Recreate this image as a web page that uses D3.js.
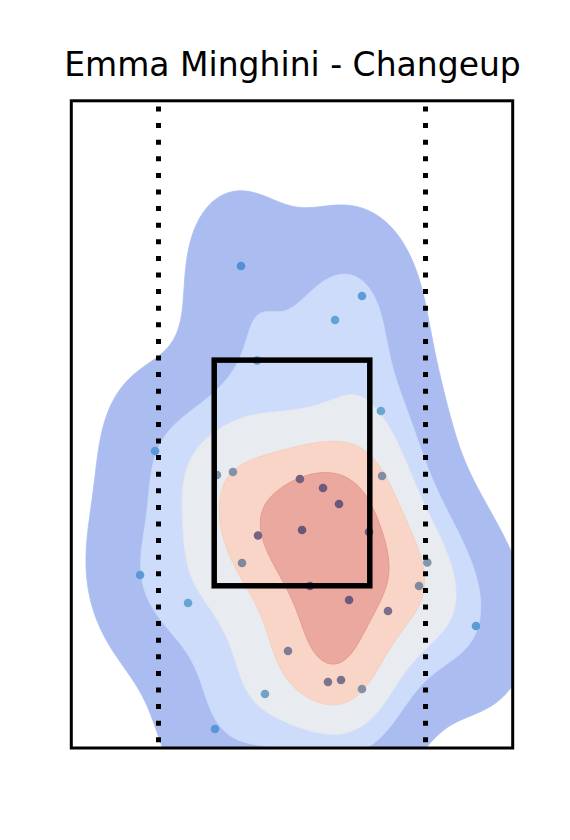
<!DOCTYPE html>
<html><head><meta charset="utf-8">
<script src="https://cdn.jsdelivr.net/npm/d3@7"></script>
<style>body{margin:0;background:#fff} svg{display:block}</style>
</head><body>
<script>
// ---- data (plate x / height, feet-like units) ----
const titleText = "Emma Minghini - Changeup";
const pitchX = [-0.462, 0.634, 0.390, -0.317, 0.806, -1.241, -0.680, -0.535, 0.072, 0.816,
                0.281, 0.426, -0.308, 0.091, 0.698, -0.453, 1.226, 0.163, 1.151, 0.517,
                -1.377, -0.942, 0.870, 1.667, -0.036, 0.326, 0.444, 0.634, -0.245, -0.698];
const pitchZ = [4.368, 4.096, 3.879, 3.512, 3.054, 2.691, 2.474, 2.501, 2.438, 2.465,
                2.356, 2.211, 1.926, 1.976, 1.957, 1.676, 1.681, 1.468, 1.468, 1.341,
                1.568, 1.314, 1.241, 1.106, 0.879, 0.598, 0.616, 0.535, 0.489, 0.172];
const zoneX = [-0.705, 0.705];
const zoneZ = [1.47, 3.515];
const edgeLines = [-1.21, 1.21];
const xLimits = [-2, 2];
const zLimits = [0, 5.865];
const isoLevels = [0.05, 0.24, 0.43, 0.62, 0.81, 1.0];
const bwAdjust = 0.9;

// ---- layout ----
const W = 570, H = 840;
const frame = {x0: 71.3, x1: 512.7, y0: 100.8, y1: 748};
const x = d3.scaleLinear().domain(xLimits).range([frame.x0, frame.x1]);
const y = d3.scaleLinear().domain(zLimits).range([frame.y1, frame.y0]);

const svg = d3.select("body").append("svg").attr("width", W).attr("height", H);

svg.append("text").attr("x", 292.5).attr("y", 76).attr("text-anchor", "middle")
  .attr("font-family", "DejaVu Sans").attr("font-size", 33).attr("fill", "#000")
  .text(titleText);

svg.append("defs").append("clipPath").attr("id", "clip")
  .append("rect").attr("x", frame.x0).attr("y", frame.y0)
  .attr("width", frame.x1 - frame.x0).attr("height", frame.y1 - frame.y0);

// ---- gaussian KDE (scott) ----
const n = pitchX.length;
const mx = d3.mean(pitchX), mz = d3.mean(pitchZ);
let sxx = 0, szz = 0, sxz = 0;
for (let i = 0; i < n; i++) {
  const dx = pitchX[i] - mx, dz = pitchZ[i] - mz;
  sxx += dx * dx; szz += dz * dz; sxz += dx * dz;
}
sxx /= (n - 1); szz /= (n - 1); sxz /= (n - 1);
const fac = Math.pow(n, -1 / 6) * bwAdjust;
const cxx = sxx * fac * fac, czz = szz * fac * fac, cxz = sxz * fac * fac;
const det = cxx * czz - cxz * cxz;
const ixx = czz / det, izz = cxx / det, ixz = -cxz / det;
const normC = 1 / (2 * Math.PI * Math.sqrt(det) * n);
function dens(px, pz) {
  let s = 0;
  for (let i = 0; i < n; i++) {
    const dx = px - pitchX[i], dz = pz - pitchZ[i];
    s += Math.exp(-0.5 * (ixx * dx * dx + 2 * ixz * dx * dz + izz * dz * dz));
  }
  return s * normC;
}
const G = 200, cut = 3;
const bwx = Math.sqrt(cxx), bwz = Math.sqrt(czz);
const gx0 = d3.min(pitchX) - cut * bwx, gx1 = d3.max(pitchX) + cut * bwx;
const gz0 = d3.min(pitchZ) - cut * bwz, gz1 = d3.max(pitchZ) + cut * bwz;
const stx = (gx1 - gx0) / (G - 1), stz = (gz1 - gz0) / (G - 1);
const grid = new Float64Array(G * G);
for (let j = 0; j < G; j++) for (let i = 0; i < G; i++)
  grid[j * G + i] = dens(gx0 + i * stx, gz0 + j * stz);

// iso-proportion -> density levels
const sorted = Array.from(grid).sort((a, b) => b - a);
const tot = d3.sum(sorted);
const cum = []; let acc = 0;
for (const v of sorted) { acc += v; cum.push(acc / tot); }
const levels = isoLevels.map(p => {
  const target = 1 - p;
  let idx = d3.bisectLeft(cum, target);
  idx = Math.min(idx, sorted.length - 1);
  return sorted[idx];
});

const bandColors = ["#abbdf0", "#cddcfb", "#e8ebef", "#f8d5c6", "#eba89e"];
const bandEdges  = ["#abbdf0", "#cddcfb", "#e6e8ec", "#f4cdbd", "#e3918a"];
const contours = d3.contours().size([G, G]).thresholds(levels.slice(0, 5))(grid);
const proj = d3.geoTransform({
  point(px, pz) { this.stream.point(x(gx0 + (px - 0.5) * stx), y(gz0 + (pz - 0.5) * stz)); }
});
const path = d3.geoPath(proj);
svg.append("g").attr("clip-path", "url(#clip)")
  .selectAll("path").data(contours).join("path")
  .attr("d", path)
  .attr("fill", (d, i) => bandColors[i])
  .attr("stroke", (d, i) => bandEdges[i])
  .attr("stroke-width", 0.8);

// ---- points, coloured by density ----
const ptColor = d3.scaleLinear()
  .domain([levels[0], levels[1], levels[2], levels[3], levels[4], levels[5]])
  .range(["#3677d6", "#5a9ad8", "#6aa8d3", "#8593a6", "#745f80", "#67547a"])
  .clamp(true);
const pts = pitchX.map((v, i) => ({x: v, z: pitchZ[i], d: dens(v, pitchZ[i])}));
svg.append("g").selectAll("circle").data(pts).join("circle")
  .attr("cx", d => x(d.x)).attr("cy", d => y(d.z)).attr("r", 4.3)
  .attr("fill", d => ptColor(d.d));

// ---- plate edge dotted lines ----
svg.append("g").attr("clip-path", "url(#clip)")
  .selectAll("line").data(edgeLines).join("line")
  .attr("x1", d => x(d)).attr("x2", d => x(d))
  .attr("y1", y(zLimits[1])).attr("y2", y(zLimits[0]))
  .attr("stroke", "#000").attr("stroke-width", 5)
  .attr("stroke-dasharray", "5 11.6").attr("stroke-dashoffset", 10.9);

// ---- strike zone ----
svg.append("rect")
  .attr("x", x(zoneX[0])).attr("y", y(zoneZ[1]))
  .attr("width", x(zoneX[1]) - x(zoneX[0])).attr("height", y(zoneZ[0]) - y(zoneZ[1]))
  .attr("fill", "none").attr("stroke", "#000").attr("stroke-width", 5.5);

// ---- frame ----
svg.append("rect").attr("x", frame.x0).attr("y", frame.y0)
  .attr("width", frame.x1 - frame.x0).attr("height", frame.y1 - frame.y0)
  .attr("fill", "none").attr("stroke", "#000").attr("stroke-width", 3);
</script>
</body></html>
